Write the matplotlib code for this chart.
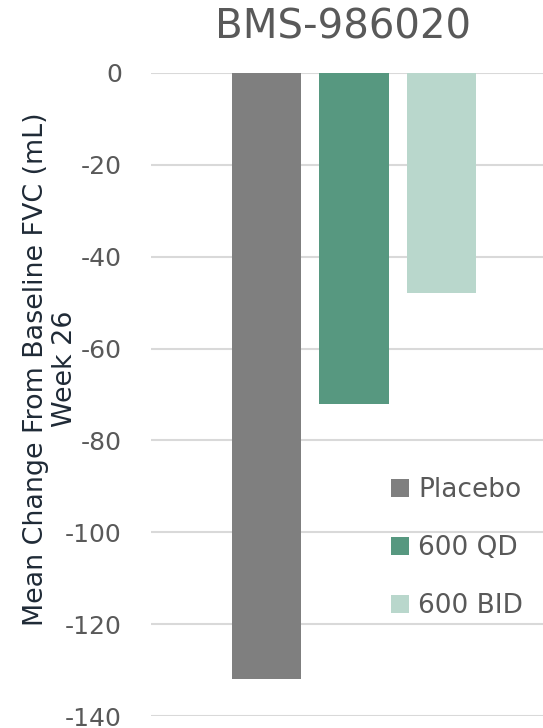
import matplotlib
matplotlib.use("Agg")
import matplotlib.pyplot as plt
from matplotlib.patches import Patch

plt.rcParams['font.family'] = ['DejaVu Sans']

series = ["Placebo", "600 QD", "600 BID"]
values = [-132, -72, -48]
colors = ["#7f7f7f", "#579880", "#b9d7cc"]
yticks = [0, -20, -40, -60, -80, -100, -120, -140]
title = "BMS-986020"
ylabel_lines = ["Mean Change From Baseline FVC (mL)", "Week 26"]

W, H = 543, 728
fig = plt.figure(figsize=(W/100, H/100), dpi=100)
ax = fig.add_axes([151/W, 12/H, 1 - 151/W, (716-73)/H])

xs = list(range(len(series)))
ax.bar(xs, values, width=0.79, color=colors, zorder=3)
ax.set_xlim(-1.32, 3.16)
ax.set_ylim(-140, 0)
ax.set_yticks(yticks)
ax.set_yticklabels([str(v) for v in yticks], fontsize=18, color="#595959")
ax.tick_params(axis='y', length=0, pad=21)
ax.set_xticks([])
ax.grid(axis='y', color="#d9d9d9", linewidth=1.5, zorder=0)
for s in ax.spines.values():
    s.set_visible(False)

fig.text(0.632, 0.962, title, ha='center', va='center', fontsize=29, color="#595959")

# two-line y label, drawn as two rotated lines
for line, xb in zip(ylabel_lines, [43, 72]):
    fig.text(xb/W, 1 - 369/H, line, rotation=90, rotation_mode='anchor',
             ha='center', va='baseline', fontsize=19.4, color="#1f2a36")

handles = [Patch(facecolor=c, edgecolor='none') for c in colors]
leg = ax.legend(handles, series, loc='upper left', bbox_to_anchor=(391/W, 1 - 477/H),
                bbox_transform=fig.transFigure, borderpad=0, borderaxespad=0,
                frameon=False, fontsize=19, labelcolor="#595959",
                handlelength=0.68, handleheight=0.68, handletextpad=0.34,
                labelspacing=1.21)

fig.savefig("out.png", dpi=100)
